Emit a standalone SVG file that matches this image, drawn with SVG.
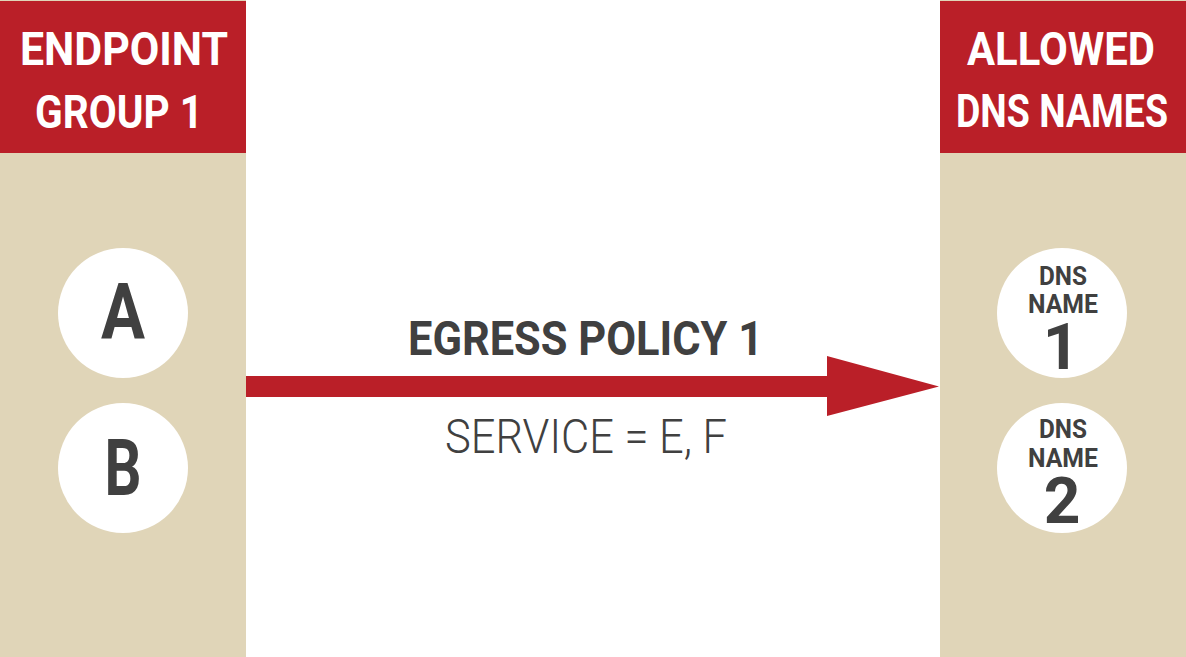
<svg xmlns="http://www.w3.org/2000/svg" width="1186" height="657" viewBox="0 0 1186 657">
<style>
.col{fill:#E0D5B8}
.hdr{fill:#BA1F28}
.circ{fill:#FFFFFF}
.ht{font-family:Roboto,"Liberation Sans",sans-serif;font-weight:bold;fill:#FFFFFF;font-size:46px;text-anchor:middle}
.ct{font-family:Roboto,"Liberation Sans",sans-serif;font-weight:bold;fill:#404040;text-anchor:middle}
.lt{font-family:Roboto,"Liberation Sans",sans-serif;font-weight:300;fill:#404040;text-anchor:middle}
</style>
<rect width="1186" height="657" fill="#FFFFFF"/>
<g id="endpoint-group">
<rect class="col" x="0" y="0" width="246" height="657"/>
<rect class="hdr" x="0" y="1" width="246" height="152"/>
<text class="ht" x="124" y="65" textLength="208" lengthAdjust="spacingAndGlyphs">ENDPOINT</text>
<text class="ht" x="119" y="128" textLength="168" lengthAdjust="spacingAndGlyphs">GROUP 1</text>
</g>
<g id="node-a">
<circle class="circ" cx="123" cy="313" r="65"/>
<text class="ct" x="123" y="339" font-size="78" textLength="44" lengthAdjust="spacingAndGlyphs">A</text>
</g>
<g id="node-b">
<circle class="circ" cx="123" cy="468" r="65"/>
<text class="ct" x="123" y="495" font-size="78" textLength="37" lengthAdjust="spacingAndGlyphs">B</text>
</g>
<g id="allowed-dns">
<rect class="col" x="940" y="0" width="246" height="657"/>
<rect class="hdr" x="940" y="1" width="246" height="152"/>
<text class="ht" x="1061" y="65" textLength="188" lengthAdjust="spacingAndGlyphs">ALLOWED</text>
<text class="ht" x="1062" y="127" textLength="212" lengthAdjust="spacingAndGlyphs">DNS NAMES</text>
</g>
<g id="dns-name-1">
<circle class="circ" cx="1062" cy="313" r="65"/>
<text class="ct" x="1063" y="285" font-size="25" textLength="48" lengthAdjust="spacingAndGlyphs">DNS</text>
<text class="ct" x="1063" y="313" font-size="25" textLength="70" lengthAdjust="spacingAndGlyphs">NAME</text>
<text class="ct" x="1061" y="369" font-size="64">1</text>
</g>
<g id="dns-name-2">
<circle class="circ" cx="1062" cy="468" r="65"/>
<text class="ct" x="1063" y="438" font-size="25" textLength="48" lengthAdjust="spacingAndGlyphs">DNS</text>
<text class="ct" x="1063" y="467" font-size="25" textLength="70" lengthAdjust="spacingAndGlyphs">NAME</text>
<text class="ct" x="1062" y="523" font-size="64">2</text>
</g>
<g id="connectors">
<polygon fill="#BA1F28" points="246,376 827,376 827,356 939,386.5 827,416 827,397 246,397"/>
<text class="ct" x="585.5" y="355" font-size="48" textLength="355" lengthAdjust="spacingAndGlyphs">EGRESS POLICY 1</text>
<text class="lt" x="586" y="453" font-size="48" textLength="282" lengthAdjust="spacingAndGlyphs">SERVICE = E, F</text>
</g>
</svg>
